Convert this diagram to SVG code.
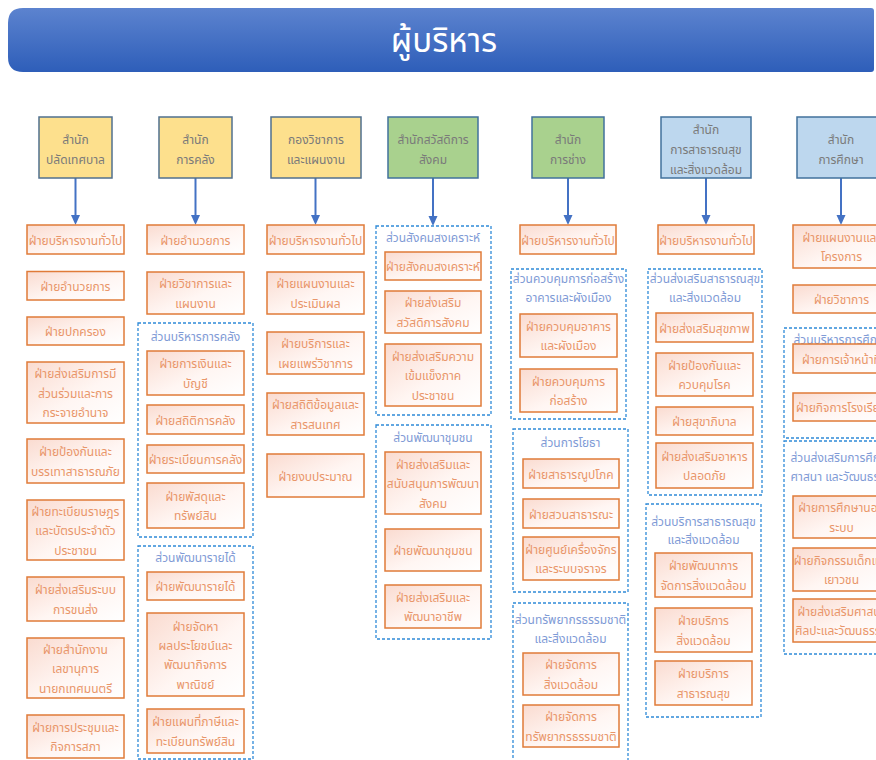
<svg xmlns="http://www.w3.org/2000/svg" width="876" height="760" viewBox="0 0 876 760">
<defs>
<linearGradient id="ban" x1="0" y1="0" x2="0" y2="1"><stop offset="0" stop-color="#5C83CF"/><stop offset="1" stop-color="#2E5EB9"/></linearGradient>
<linearGradient id="bg" x1="0" y1="0" x2="1" y2="1"><stop offset="0" stop-color="#FADBD0"/><stop offset="0.55" stop-color="#FFF6F3"/><stop offset="1" stop-color="#FFFFFF"/></linearGradient>
<marker id="ah" markerWidth="10" markerHeight="10" refX="3" refY="5" orient="auto" markerUnits="userSpaceOnUse"><path d="M0,0.5 L10,5 L0,9.5 z" fill="#4472C4"/></marker>
<style>
.box{fill:url(#bg);stroke:#E07B39;stroke-width:1.5}
.t{font-family:"Noto Sans Thai","Noto Sans Thai UI","Leelawadee UI",Tahoma,"Noto Sans",sans-serif;font-size:12px;fill:#E9966A;text-anchor:middle}
.g{fill:none;stroke:#2F8AD8;stroke-width:1.3;stroke-dasharray:3 2}
.gl{font-family:"Noto Sans Thai","Noto Sans Thai UI","Leelawadee UI",Tahoma,"Noto Sans",sans-serif;font-size:12px;fill:#7F9BD6;text-anchor:middle}
.hy{fill:#FDE08D;stroke:#50708F;stroke-width:1.5}
.hg{fill:#A9D18E;stroke:#41719C;stroke-width:1.5}
.hb{fill:#BDD7EE;stroke:#41719C;stroke-width:1.5}
.ht{font-family:"Noto Sans Thai","Noto Sans Thai UI","Leelawadee UI",Tahoma,"Noto Sans",sans-serif;font-size:12px;fill:#7A7A7A;text-anchor:middle}
.c{stroke:#4472C4;stroke-width:2;fill:none;marker-end:url(#ah)}
</style>
</defs>
<rect width="876" height="760" fill="#FFFFFF"/>
<g id="title">
<path d="M23,8 H871 Q874,8 874,11 V69 Q874,72 871,72 H23 Q8,72 8,57 V23 Q8,8 23,8 Z" fill="url(#ban)"/>
<text x="444" y="52" font-family="'Noto Sans Thai','Leelawadee UI',Tahoma,'Noto Sans',sans-serif" font-size="33" fill="#FFFFFF" text-anchor="middle">ผู้บริหาร</text>
</g>
<g id="connectors">
<line class="c" x1="75.5" y1="178" x2="75.5" y2="218"/>
<line class="c" x1="195.5" y1="178" x2="195.5" y2="218"/>
<line class="c" x1="315.5" y1="178" x2="315.5" y2="218"/>
<line class="c" x1="433" y1="178" x2="433" y2="219"/>
<line class="c" x1="568" y1="178" x2="568" y2="218"/>
<line class="c" x1="706" y1="178" x2="706" y2="218"/>
<line class="c" x1="841" y1="178" x2="841" y2="218"/>
</g>
<g id="h1"><rect class="hy" x="39" y="117" width="73" height="61"/><text class="ht"><tspan x="75.5" y="143.5">สำนัก</tspan><tspan x="75.5" y="163.5">ปลัดเทศบาล</tspan></text></g>
<g id="h2"><rect class="hy" x="159" y="117" width="73" height="61"/><text class="ht"><tspan x="195.5" y="143.5">สำนัก</tspan><tspan x="195.5" y="163.5">การคลัง</tspan></text></g>
<g id="h3"><rect class="hy" x="271" y="117" width="90" height="61"/><text class="ht"><tspan x="316" y="143.5">กองวิชาการ</tspan><tspan x="316" y="163.5">และแผนงาน</tspan></text></g>
<g id="h4"><rect class="hg" x="388" y="117" width="90" height="61"/><text class="ht"><tspan x="433" y="143.5">สำนักสวัสดิการ</tspan><tspan x="433" y="163.5">สังคม</tspan></text></g>
<g id="h5"><rect class="hg" x="532" y="117" width="72" height="61"/><text class="ht"><tspan x="568" y="143.5">สำนัก</tspan><tspan x="568" y="163.5">การช่าง</tspan></text></g>
<g id="h6"><rect class="hb" x="661" y="117" width="90" height="61"/><text class="ht"><tspan x="706" y="133.5">สำนัก</tspan><tspan x="706" y="153.5">การสาธารณสุข</tspan><tspan x="706" y="173.5">และสิ่งแวดล้อม</tspan></text></g>
<g id="h7"><rect class="hb" x="797" y="117" width="88" height="61"/><text class="ht"><tspan x="841" y="143.5">สำนัก</tspan><tspan x="841" y="163.5">การศึกษา</tspan></text></g>

<g id="c1b1"><rect class="box" x="27" y="225" width="97" height="29"/><text class="t" x="75.5" y="244.5">ฝ่ายบริหารงานทั่วไป</text></g>
<g id="c1b2"><rect class="box" x="27" y="271.5" width="97" height="28.5"/><text class="t" x="75.5" y="290.7">ฝ่ายอำนวยการ</text></g>
<g id="c1b3"><rect class="box" x="27" y="317" width="97" height="28"/><text class="t" x="75.5" y="336">ฝ่ายปกครอง</text></g>
<g id="c1b4"><rect class="box" x="27" y="362" width="97" height="61"/><text class="t"><tspan x="75.5" y="378">ฝ่ายส่งเสริมการมี</tspan><tspan x="75.5" y="397.5">ส่วนร่วมและการ</tspan><tspan x="75.5" y="417">กระจายอำนาจ</tspan></text></g>
<g id="c1b5"><rect class="box" x="27" y="439" width="97" height="44"/><text class="t"><tspan x="75.5" y="456.2">ฝ่ายป้องกันและ</tspan><tspan x="75.5" y="475.7">บรรเทาสาธารณภัย</tspan></text></g>
<g id="c1b6"><rect class="box" x="27" y="500" width="97" height="60"/><text class="t"><tspan x="75.5" y="515.5">ฝ่ายทะเบียนราษฎร</tspan><tspan x="75.5" y="535">และบัตรประจำตัว</tspan><tspan x="75.5" y="554.5">ประชาชน</tspan></text></g>
<g id="c1b7"><rect class="box" x="27" y="577" width="97" height="44"/><text class="t"><tspan x="75.5" y="594.2">ฝ่ายส่งเสริมระบบ</tspan><tspan x="75.5" y="613.7">การขนส่ง</tspan></text></g>
<g id="c1b8"><rect class="box" x="27" y="638" width="97" height="60"/><text class="t"><tspan x="75.5" y="653.5">ฝ่ายสำนักงาน</tspan><tspan x="75.5" y="673">เลขานุการ</tspan><tspan x="75.5" y="692.5">นายกเทศมนตรี</tspan></text></g>
<g id="c1b9"><rect class="box" x="27" y="715" width="97" height="43"/><text class="t"><tspan x="75.5" y="731.7">ฝ่ายการประชุมและ</tspan><tspan x="75.5" y="751.2">กิจการสภา</tspan></text></g>

<g id="c2b1"><rect class="box" x="147" y="225" width="97" height="29"/><text class="t" x="195.5" y="244.5">ฝ่ายอำนวยการ</text></g>
<g id="c2b2"><rect class="box" x="147" y="272" width="97" height="42"/><text class="t"><tspan x="195.5" y="288.2">ฝ่ายวิชาการและ</tspan><tspan x="195.5" y="307.7">แผนงาน</tspan></text></g>
<g id="c2gA"><rect class="g" x="138" y="323" width="115" height="214"/><text class="gl" x="195.5" y="340.7">ส่วนบริหารการคลัง</text></g>
<g id="c2b3"><rect class="box" x="147" y="351" width="97" height="44"/><text class="t"><tspan x="195.5" y="368.2">ฝ่ายการเงินและ</tspan><tspan x="195.5" y="387.7">บัญชี</tspan></text></g>
<g id="c2b4"><rect class="box" x="147" y="405" width="97" height="29"/><text class="t" x="195.5" y="424.5">ฝ่ายสถิติการคลัง</text></g>
<g id="c2b5"><rect class="box" x="147" y="445" width="97" height="28"/><text class="t" x="195.5" y="464">ฝ่ายระเบียนการคลัง</text></g>
<g id="c2b6"><rect class="box" x="147" y="483" width="97" height="45"/><text class="t"><tspan x="195.5" y="500.7">ฝ่ายพัสดุและ</tspan><tspan x="195.5" y="520.2">ทรัพย์สิน</tspan></text></g>
<g id="c2gB"><rect class="g" x="138" y="546" width="115" height="213"/><text class="gl" x="195.5" y="561.7">ส่วนพัฒนารายได้</text></g>
<g id="c2b7"><rect class="box" x="147" y="572" width="97" height="28"/><text class="t" x="195.5" y="591">ฝ่ายพัฒนารายได้</text></g>
<g id="c2b8"><rect class="box" x="147" y="613" width="97" height="83"/><text class="t"><tspan x="195.5" y="630.7">ฝ่ายจัดหา</tspan><tspan x="195.5" y="650">ผลประโยชน์และ</tspan><tspan x="195.5" y="669.3">พัฒนากิจการ</tspan><tspan x="195.5" y="688.6">พาณิชย์</tspan></text></g>
<g id="c2b9"><rect class="box" x="147" y="709" width="97" height="44"/><text class="t"><tspan x="195.5" y="726.2">ฝ่ายแผนที่ภาษีและ</tspan><tspan x="195.5" y="745.7">ทะเบียนทรัพย์สิน</tspan></text></g>

<g id="c3b1"><rect class="box" x="267" y="225" width="97" height="29"/><text class="t" x="315.5" y="244.5">ฝ่ายบริหารงานทั่วไป</text></g>
<g id="c3b2"><rect class="box" x="267" y="272" width="97" height="42"/><text class="t"><tspan x="315.5" y="288.2">ฝ่ายแผนงานและ</tspan><tspan x="315.5" y="307.7">ประเมินผล</tspan></text></g>
<g id="c3b3"><rect class="box" x="267" y="332" width="97" height="42"/><text class="t"><tspan x="315.5" y="348.2">ฝ่ายบริการและ</tspan><tspan x="315.5" y="367.7">เผยแพร่วิชาการ</tspan></text></g>
<g id="c3b4"><rect class="box" x="267" y="393" width="97" height="42"/><text class="t"><tspan x="315.5" y="409.2">ฝ่ายสถิติข้อมูลและ</tspan><tspan x="315.5" y="428.7">สารสนเทศ</tspan></text></g>
<g id="c3b5"><rect class="box" x="267" y="454" width="97" height="43"/><text class="t" x="315.5" y="480.5">ฝ่ายงบประมาณ</text></g>

<g id="c4gA"><rect class="g" x="376" y="226" width="115" height="189"/><text class="gl" x="433" y="242.3">ส่วนสังคมสงเคราะห์</text></g>
<g id="c4b1"><rect class="box" x="385" y="252" width="96" height="28"/><text class="t" x="433" y="271">ฝ่ายสังคมสงเคราะห์</text></g>
<g id="c4b2"><rect class="box" x="385" y="291" width="96" height="42"/><text class="t"><tspan x="433" y="307.2">ฝ่ายส่งเสริม</tspan><tspan x="433" y="326.7">สวัสดิการสังคม</tspan></text></g>
<g id="c4b3"><rect class="box" x="385" y="344" width="96" height="62"/><text class="t"><tspan x="433" y="360.5">ฝ่ายส่งเสริมความ</tspan><tspan x="433" y="380">เข้มแข็งภาค</tspan><tspan x="433" y="399.5">ประชาชน</tspan></text></g>
<g id="c4gB"><rect class="g" x="376" y="425" width="115" height="214"/><text class="gl" x="433" y="442.3">ส่วนพัฒนาชุมชน</text></g>
<g id="c4b4"><rect class="box" x="385" y="452" width="96" height="62"/><text class="t"><tspan x="433" y="468.5">ฝ่ายส่งเสริมและ</tspan><tspan x="433" y="488">สนับสนุนการพัฒนา</tspan><tspan x="433" y="507.5">สังคม</tspan></text></g>
<g id="c4b5"><rect class="box" x="385" y="529" width="96" height="42"/><text class="t" x="433" y="555">ฝ่ายพัฒนาชุมชน</text></g>
<g id="c4b6"><rect class="box" x="385" y="585" width="96" height="43"/><text class="t"><tspan x="433" y="601.7">ฝ่ายส่งเสริมและ</tspan><tspan x="433" y="621.2">พัฒนาอาชีพ</tspan></text></g>

<g id="c5b1"><rect class="box" x="520" y="225" width="96" height="29"/><text class="t" x="568" y="244.5">ฝ่ายบริหารงานทั่วไป</text></g>
<g id="c5gA"><rect class="g" x="511" y="269" width="115" height="150"/><text class="gl"><tspan x="568.5" y="283">ส่วนควบคุมการก่อสร้าง</tspan><tspan x="568.5" y="302">อาคารและผังเมือง</tspan></text></g>
<g id="c5b2"><rect class="box" x="520" y="314" width="97" height="43"/><text class="t"><tspan x="568.5" y="330.7">ฝ่ายควบคุมอาคาร</tspan><tspan x="568.5" y="350.2">และผังเมือง</tspan></text></g>
<g id="c5b3"><rect class="box" x="520" y="369" width="97" height="43"/><text class="t"><tspan x="568.5" y="385.7">ฝ่ายควบคุมการ</tspan><tspan x="568.5" y="405.2">ก่อสร้าง</tspan></text></g>
<g id="c5gB"><rect class="g" x="513" y="429" width="115" height="163"/><text class="gl" x="570.5" y="447.3">ส่วนการโยธา</text></g>
<g id="c5b4"><rect class="box" x="523" y="459" width="96" height="29"/><text class="t" x="571" y="478.5">ฝ่ายสาธารณูปโภค</text></g>
<g id="c5b5"><rect class="box" x="523" y="499" width="96" height="29"/><text class="t" x="571" y="518.5">ฝ่ายสวนสาธารณะ</text></g>
<g id="c5b6"><rect class="box" x="523" y="537" width="96" height="43"/><text class="t"><tspan x="571" y="553.7">ฝ่ายศูนย์เครื่องจักร</tspan><tspan x="571" y="573.2">และระบบจราจร</tspan></text></g>
<g id="c5gC"><rect class="g" x="513" y="603" width="115" height="175"/><text class="gl"><tspan x="570.5" y="624">ส่วนทรัพยากรธรรมชาติ</tspan><tspan x="570.5" y="643">และสิ่งแวดล้อม</tspan></text></g>
<g id="c5b7"><rect class="box" x="523" y="653" width="96" height="42"/><text class="t"><tspan x="571" y="669.2">ฝ่ายจัดการ</tspan><tspan x="571" y="688.7">สิ่งแวดล้อม</tspan></text></g>
<g id="c5b8"><rect class="box" x="523" y="705" width="96" height="42"/><text class="t"><tspan x="571" y="721.2">ฝ่ายจัดการ</tspan><tspan x="571" y="740.7">ทรัพยากรธรรมชาติ</tspan></text></g>

<g id="c6b1"><rect class="box" x="658" y="225" width="96" height="29"/><text class="t" x="706" y="244.5">ฝ่ายบริหารงานทั่วไป</text></g>
<g id="c6gA"><rect class="g" x="648" y="269" width="114" height="226"/><text class="gl"><tspan x="705" y="283.3">ส่วนส่งเสริมสาธารณสุข</tspan><tspan x="705" y="302.3">และสิ่งแวดล้อม</tspan></text></g>
<g id="c6b2"><rect class="box" x="656" y="313" width="97" height="29"/><text class="t" x="704.5" y="332.5">ฝ่ายส่งเสริมสุขภาพ</text></g>
<g id="c6b3"><rect class="box" x="656" y="353" width="97" height="43"/><text class="t"><tspan x="704.5" y="369.7">ฝ่ายป้องกันและ</tspan><tspan x="704.5" y="389.2">ควบคุมโรค</tspan></text></g>
<g id="c6b4"><rect class="box" x="656" y="407" width="97" height="28"/><text class="t" x="704.5" y="426">ฝ่ายสุขาภิบาล</text></g>
<g id="c6b5"><rect class="box" x="656" y="443" width="97" height="45"/><text class="t"><tspan x="704.5" y="460.7">ฝ่ายส่งเสริมอาหาร</tspan><tspan x="704.5" y="480.2">ปลอดภัย</tspan></text></g>
<g id="c6gB"><rect class="g" x="646" y="504" width="115" height="213"/><text class="gl"><tspan x="703.5" y="525.7">ส่วนบริการสาธารณสุข</tspan><tspan x="703.5" y="544">และสิ่งแวดล้อม</tspan></text></g>
<g id="c6b6"><rect class="box" x="655" y="553" width="97" height="44"/><text class="t"><tspan x="703.5" y="570.2">ฝ่ายพัฒนาการ</tspan><tspan x="703.5" y="589.7">จัดการสิ่งแวดล้อม</tspan></text></g>
<g id="c6b7"><rect class="box" x="655" y="608" width="97" height="44"/><text class="t"><tspan x="703.5" y="625.2">ฝ่ายบริการ</tspan><tspan x="703.5" y="644.7">สิ่งแวดล้อม</tspan></text></g>
<g id="c6b8"><rect class="box" x="655" y="661" width="97" height="44"/><text class="t"><tspan x="703.5" y="678.2">ฝ่ายบริการ</tspan><tspan x="703.5" y="697.7">สาธารณสุข</tspan></text></g>

<g id="c7b1"><rect class="box" x="793" y="225" width="97" height="43"/><text class="t"><tspan x="841.5" y="241.7">ฝ่ายแผนงานและ</tspan><tspan x="841.5" y="261.2">โครงการ</tspan></text></g>
<g id="c7b2"><rect class="box" x="793" y="285" width="97" height="28"/><text class="t" x="841.5" y="304">ฝ่ายวิชาการ</text></g>
<g id="c7gA"><rect class="g" x="784" y="328" width="115" height="110"/><text class="gl" x="841.5" y="344">ส่วนบริหารการศึกษา</text></g>
<g id="c7b3"><rect class="box" x="793" y="344" width="97" height="29"/><text class="t" x="841.5" y="363.5">ฝ่ายการเจ้าหน้าที่</text></g>
<g id="c7b4"><rect class="box" x="793" y="393" width="97" height="28"/><text class="t" x="841.5" y="412">ฝ่ายกิจการโรงเรียน</text></g>
<g id="c7gB"><rect class="g" x="784" y="441" width="115" height="213"/><text class="gl"><tspan x="841.5" y="462.3">ส่วนส่งเสริมการศึกษา</tspan><tspan x="841.5" y="481.3">ศาสนา และวัฒนธรรม</tspan></text></g>
<g id="c7b5"><rect class="box" x="793" y="496" width="97" height="42"/><text class="t"><tspan x="841.5" y="512.2">ฝ่ายการศึกษานอก</tspan><tspan x="841.5" y="531.7">ระบบ</tspan></text></g>
<g id="c7b6"><rect class="box" x="793" y="548" width="97" height="43"/><text class="t"><tspan x="841.5" y="564.7">ฝ่ายกิจกรรมเด็กและ</tspan><tspan x="841.5" y="584.2">เยาวชน</tspan></text></g>
<g id="c7b7"><rect class="box" x="793" y="599" width="97" height="43"/><text class="t"><tspan x="841.5" y="615.7">ฝ่ายส่งเสริมศาสนา</tspan><tspan x="841.5" y="635.2">ศิลปะและวัฒนธรรม</tspan></text></g>
</svg>
